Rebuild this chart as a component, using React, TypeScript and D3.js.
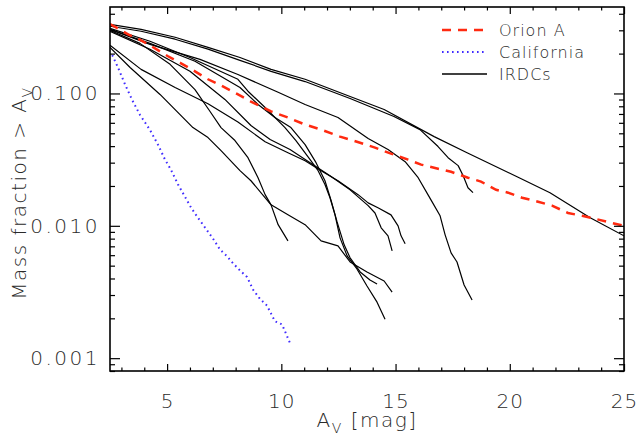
import { useEffect, useRef } from 'react'
import * as d3 from 'd3'

const W = 637
const H = 439
const margin = { top: 7, right: 13, bottom: 68, left: 110 }

// x: A_V [mag], y: mass fraction above A_V
const xDomain: [number, number] = [2.5, 25]
const yDomain: [number, number] = [0.0008, 0.45]
const xMajor = [5, 10, 15, 20, 25]
const yMajor = [0.001, 0.01, 0.1]

const orionA: [number, number][] = [
  [2.5, 0.335], [3.29, 0.28], [3.86, 0.252], [4.47, 0.219], [5.04, 0.191], [5.61, 0.169],
  [6.22, 0.147], [6.79, 0.128], [7.36, 0.115], [8.02, 0.1], [8.67, 0.0869], [9.55, 0.0731],
  [10.29, 0.0658], [11.04, 0.0582], [11.74, 0.0533], [12.57, 0.0472], [13.31, 0.0432],
  [14.1, 0.039], [14.8, 0.0351], [15.55, 0.0316], [16.12, 0.029], [16.86, 0.027],
  [17.43, 0.0256], [18.17, 0.0231], [18.74, 0.0216], [19.4, 0.0187], [19.93, 0.0178],
  [20.54, 0.0163], [21.24, 0.0152], [21.85, 0.0142], [22.55, 0.0125], [23.17, 0.0119],
  [23.73, 0.0113], [24.48, 0.0105], [25.0, 0.01],
]

const california: [number, number][] = [
  [2.6, 0.195], [2.85, 0.157], [3.16, 0.117], [3.46, 0.09], [3.81, 0.069], [4.25, 0.053],
  [4.6, 0.041], [4.91, 0.0316], [5.17, 0.0265], [5.48, 0.0205], [5.78, 0.0166], [6.05, 0.0137],
  [6.35, 0.0115], [6.66, 0.0097], [7.01, 0.008], [7.32, 0.0066], [7.62, 0.0059], [7.89, 0.0052],
  [8.19, 0.0046], [8.5, 0.0041], [8.76, 0.0033], [9.07, 0.0028], [9.37, 0.0025], [9.72, 0.0019],
  [10.03, 0.0018], [10.38, 0.0013],
]

const irdc1: [number, number][] = [
  [2.5, 0.333], [3.86, 0.305], [5.35, 0.266], [6.79, 0.223], [8.19, 0.187], [9.55, 0.152],
  [11.04, 0.128], [13.01, 0.0949], [14.5, 0.0756], [16.69, 0.0472], [18.13, 0.0357],
  [20.32, 0.0235], [21.76, 0.0178], [23.52, 0.0115], [25.0, 0.0084],
]
const irdc2: [number, number][] = [
  [2.5, 0.322], [3.86, 0.295], [5.35, 0.257], [6.79, 0.216], [8.19, 0.178], [9.55, 0.147],
  [11.04, 0.123], [13.01, 0.0917], [14.93, 0.067], [16.07, 0.0533], [16.86, 0.0397],
  [17.3, 0.0327], [17.74, 0.0285], [17.96, 0.0239], [18.17, 0.0194], [18.39, 0.0178],
]
const irdc3: [number, number][] = [
  [2.5, 0.305], [4.25, 0.235], [6.44, 0.181], [8.1, 0.139], [9.86, 0.102], [11.04, 0.0826],
  [12.48, 0.0658], [13.8, 0.0456], [14.67, 0.0377], [15.42, 0.0305], [15.99, 0.0231],
  [16.55, 0.0157], [16.95, 0.0119], [17.17, 0.00855], [17.43, 0.00624], [17.69, 0.00533],
  [18.0, 0.00357], [18.35, 0.00275],
]
const irdc4: [number, number][] = [
  [2.5, 0.3], [3.81, 0.239], [5.13, 0.166], [6.22, 0.107], [6.88, 0.0731], [7.36, 0.0552],
  [7.97, 0.0441], [8.54, 0.0327], [8.98, 0.0231], [9.29, 0.0172], [9.55, 0.0144],
  [9.86, 0.0102], [10.29, 0.00769],
]
const irdc5: [number, number][] = [
  [2.5, 0.31], [4.25, 0.248], [6.0, 0.187], [8.1, 0.128], [8.54, 0.104], [9.29, 0.0783],
  [10.16, 0.0552], [10.64, 0.0441], [11.26, 0.0316], [11.61, 0.0261], [11.91, 0.0205],
  [12.13, 0.0163], [12.35, 0.0121], [12.57, 0.00811], [12.88, 0.00593], [13.31, 0.00472],
  [13.75, 0.00351], [14.19, 0.00265], [14.54, 0.00197],
]
const irdc6: [number, number][] = [
  [2.5, 0.305], [4.25, 0.239], [6.22, 0.175], [8.19, 0.111], [8.98, 0.0826], [9.72, 0.0658],
  [10.42, 0.0552], [11.04, 0.0411], [11.52, 0.03], [11.91, 0.0219], [12.18, 0.0155],
  [12.44, 0.0107], [12.75, 0.00718], [13.01, 0.00573], [13.45, 0.00448], [13.88, 0.0039],
  [14.19, 0.00364],
]
const irdc7: [number, number][] = [
  [2.5, 0.231], [3.86, 0.152], [5.35, 0.111], [6.79, 0.0836], [8.1, 0.0608], [9.29, 0.0432],
  [10.29, 0.0357], [11.04, 0.031], [11.74, 0.0261], [12.48, 0.0219], [13.36, 0.0172],
  [13.8, 0.0149], [14.23, 0.0137], [14.8, 0.0121], [15.11, 0.01], [15.24, 0.0084],
  [15.42, 0.00731],
]
const irdc8: [number, number][] = [
  [2.5, 0.295], [4.25, 0.216], [6.0, 0.147], [7.53, 0.0901], [8.67, 0.0573], [9.51, 0.0449],
  [10.38, 0.0377], [11.26, 0.03], [12.13, 0.0239], [13.01, 0.0187], [13.8, 0.0142],
  [14.1, 0.0125], [14.37, 0.00966], [14.67, 0.0084], [14.85, 0.00647],
]
const irdc9: [number, number][] = [
  [2.5, 0.223], [3.38, 0.157], [4.69, 0.0983], [6.13, 0.0552], [6.79, 0.0464], [7.36, 0.037],
  [8.19, 0.0261], [8.67, 0.0219], [9.55, 0.0144], [10.29, 0.0121], [11.04, 0.0102],
  [11.74, 0.00769], [12.48, 0.00705], [13.01, 0.00533], [13.75, 0.00448], [14.5, 0.00383],
  [14.85, 0.00316],
]
const irdcs = [irdc1, irdc2, irdc3, irdc4, irdc5, irdc6, irdc7, irdc8, irdc9]

const legendLabels = ['Orion A', 'California', 'IRDCs']

const RED = '#ff2a10'
const BLUE = '#3f2bff'
const FONT = '"DejaVu Sans", sans-serif'
const TEXT = '#2a2a2a'

export default function App() {
  const svgRef = useRef<SVGSVGElement>(null)

  useEffect(() => {
    const svg = d3.select(svgRef.current)
    svg.selectAll('*').remove()

    const x = d3.scaleLinear().domain(xDomain).range([margin.left, W - margin.right])
    const y = d3.scaleLog().domain(yDomain).range([H - margin.bottom, margin.top])
    const x0 = margin.left, x1 = W - margin.right
    const y0 = H - margin.bottom, y1 = margin.top

    svg.append('defs').append('clipPath').attr('id', 'plot-clip')
      .append('rect').attr('x', x0).attr('y', y1).attr('width', x1 - x0).attr('height', y0 - y1)

    const line = d3.line<[number, number]>()
      .x(d => x(d[0]))
      .y(d => y(d[1]))

    const g = svg.append('g').attr('clip-path', 'url(#plot-clip)')

    irdcs.forEach(c => {
      g.append('path').datum(c)
        .attr('fill', 'none')
        .attr('stroke', '#000')
        .attr('stroke-width', 1.2)
        .attr('stroke-linejoin', 'round')
        .attr('d', line)
    })
    g.append('path').datum(orionA)
      .attr('fill', 'none')
      .attr('stroke', RED)
      .attr('stroke-width', 2.5)
      .attr('stroke-dasharray', '9,7')
      .attr('d', line)
    g.append('path').datum(california)
      .attr('fill', 'none')
      .attr('stroke', BLUE)
      .attr('stroke-width', 2)
      .attr('stroke-dasharray', '1.6,3.4')
      .attr('d', line)

    // axes: ticks pointing inward on all four sides
    const xMinor = d3.range(3, 26).filter(v => !xMajor.includes(v))
    const yMinor = y.ticks().filter(v => !yMajor.some(m => Math.abs(m - v) < 1e-9))

    const addAxis = (axis: any, tx: number, ty: number) => {
      const a = svg.append('g').attr('transform', `translate(${tx},${ty})`).call(axis)
      a.select('.domain').remove()
      a.selectAll('line').attr('stroke', '#000').attr('stroke-width', 1.2)
      return a
    }

    const xB = addAxis(d3.axisBottom(x).tickValues(xMajor).tickSize(-7).tickPadding(23)
      .tickFormat(d3.format('d')), 0, y0)
    xB.selectAll('text').attr('font-family', FONT).attr('font-weight', 200)
      .attr('font-size', 20).attr('fill', TEXT).attr('letter-spacing', 1)
    addAxis(d3.axisBottom(x).tickValues(xMinor).tickSize(-3.5).tickFormat(() => ''), 0, y0)
    addAxis(d3.axisTop(x).tickValues(xMajor).tickSize(-7).tickFormat(() => ''), 0, y1)
    addAxis(d3.axisTop(x).tickValues(xMinor).tickSize(-3.5).tickFormat(() => ''), 0, y1)

    const yL = addAxis(d3.axisLeft(y).tickValues(yMajor).tickSize(-10).tickPadding(10)
      .tickFormat(d3.format('.3f')), x0, 0)
    yL.selectAll('text').attr('font-family', FONT).attr('font-weight', 200)
      .attr('font-size', 20).attr('fill', TEXT).attr('letter-spacing', 2.5)
    addAxis(d3.axisLeft(y).tickValues(yMinor).tickSize(-5).tickFormat(() => ''), x0, 0)
    addAxis(d3.axisRight(y).tickValues(yMajor).tickSize(-10).tickFormat(() => ''), x1, 0)
    addAxis(d3.axisRight(y).tickValues(yMinor).tickSize(-5).tickFormat(() => ''), x1, 0)

    svg.append('rect')
      .attr('x', x0).attr('y', y1).attr('width', x1 - x0).attr('height', y0 - y1)
      .attr('fill', 'none').attr('stroke', '#000').attr('stroke-width', 1.6)

    // axis titles
    const xt = svg.append('text')
      .attr('x', (x0 + x1) / 2).attr('y', 427)
      .attr('text-anchor', 'middle')
      .attr('font-family', FONT).attr('font-weight', 200)
      .attr('font-size', 20).attr('fill', TEXT)
      .attr('letter-spacing', 1.5)
    xt.append('tspan').text('A')
    xt.append('tspan').attr('dy', 6).attr('font-size', 14).text('V')
    xt.append('tspan').attr('dy', -6).text(' [mag]')

    const yt = svg.append('text')
      .attr('transform', `translate(26,${(y0 + y1) / 2 + 4}) rotate(-90)`)
      .attr('text-anchor', 'middle')
      .attr('font-family', FONT).attr('font-weight', 200)
      .attr('font-size', 20).attr('fill', TEXT)
      .attr('letter-spacing', 1.5)
    yt.append('tspan').text('Mass fraction > A')
    yt.append('tspan').attr('dy', 6).attr('font-size', 14).text('V')

    // legend
    const legend = svg.append('g')
    const styles = [
      { stroke: RED, width: 2.5, dash: '9,7' },
      { stroke: BLUE, width: 2, dash: '1.6,3.4' },
      { stroke: '#000', width: 1.6, dash: null },
    ]
    legendLabels.forEach((label, i) => {
      const ly = 30 + i * 22
      const s = styles[i]
      const l = legend.append('line')
        .attr('x1', 442).attr('x2', 487).attr('y1', ly).attr('y2', ly)
        .attr('stroke', s.stroke).attr('stroke-width', s.width)
      if (s.dash) l.attr('stroke-dasharray', s.dash)
      legend.append('text')
        .attr('x', 499).attr('y', ly + 5.5)
        .attr('font-family', FONT).attr('font-weight', 200)
        .attr('font-size', 16).attr('fill', TEXT)
        .attr('letter-spacing', 1)
        .text(label)
    })
  }, [])

  return (
    <svg
      ref={svgRef}
      width={W}
      height={H}
      style={{ position: 'absolute', left: 0, top: 0, background: '#fff' }}
    />
  )
}
